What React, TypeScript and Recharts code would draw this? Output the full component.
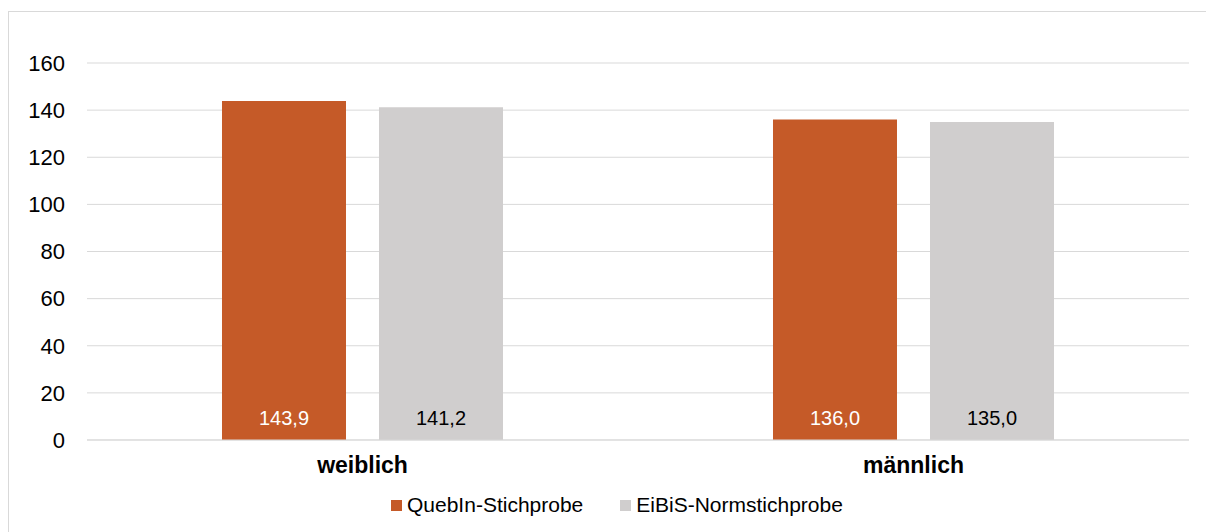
import { Bar, BarChart, CartesianGrid, LabelList, XAxis, YAxis } from "recharts";

const categories = ["weiblich", "männlich"];
const quebin = [143.9, 136.0];
const eibis = [141.2, 135.0];
const yTicks = [0, 20, 40, 60, 80, 100, 120, 140, 160];

const ORANGE = "#C55A28";
const GRAY = "#D0CECE";
const FONT = "'Liberation Sans', Arial, sans-serif";

const series = [
  { key: "quebin", name: "QuebIn-Stichprobe", color: ORANGE, labelColor: "#fff" },
  { key: "eibis", name: "EiBiS-Normstichprobe", color: GRAY, labelColor: "#000" },
];

const data = categories.map((name, i) => ({
  name,
  quebin: quebin[i],
  eibis: eibis[i],
}));

const fmt = (v: unknown) => Number(v).toFixed(1).replace(".", ",");

export default function App() {
  return (
    <div
      style={{
        position: "relative",
        marginTop: 3,
        width: 1206,
        height: 520,
        borderLeft: "1px solid #d9d9d9",
        borderTop: "1px solid #d9d9d9",
        fontFamily: FONT,
        overflow: "hidden",
      }}
    >
      <BarChart
        width={1205}
        height={519}
        data={data}
        margin={{ top: 51, right: 25, left: 28, bottom: 61 }}
        barCategoryGap="24.5%"
        barGap={33}
      >
        <CartesianGrid stroke="#d9d9d9" vertical={false} />
        <XAxis
          dataKey="name"
          axisLine={{ stroke: "#d9d9d9" }}
          tickLine={false}
          tickMargin={11}
          tick={{ fontSize: 23, fontWeight: "bold", fill: "#000", fontFamily: FONT }}
        />
        <YAxis
          domain={[0, 160]}
          ticks={yTicks}
          axisLine={false}
          tickLine={false}
          width={50}
          tickMargin={16}
          tick={{ fontSize: 22, fill: "#000", fontFamily: FONT }}
        />
        {series.map((s) => (
          <Bar key={s.key} dataKey={s.key} name={s.name} fill={s.color} isAnimationActive={false}>
            <LabelList
              dataKey={s.key}
              position="insideBottom"
              offset={15}
              formatter={fmt}
              style={{ fill: s.labelColor, fontSize: 20, fontFamily: FONT }}
            />
          </Bar>
        ))}
      </BarChart>
      <div
        style={{
          position: "absolute",
          left: 382,
          top: 481,
          display: "flex",
          alignItems: "center",
          fontSize: 21,
          lineHeight: "24px",
          color: "#000",
        }}
      >
        {series.map((s, i) => (
          <div key={s.key} style={{ display: "flex", alignItems: "center", marginRight: i === 0 ? 37 : 0 }}>
            <span style={{ width: 11, height: 11, background: s.color, marginRight: 5, display: "inline-block" }} />
            <span>{s.name}</span>
          </div>
        ))}
      </div>
    </div>
  );
}
